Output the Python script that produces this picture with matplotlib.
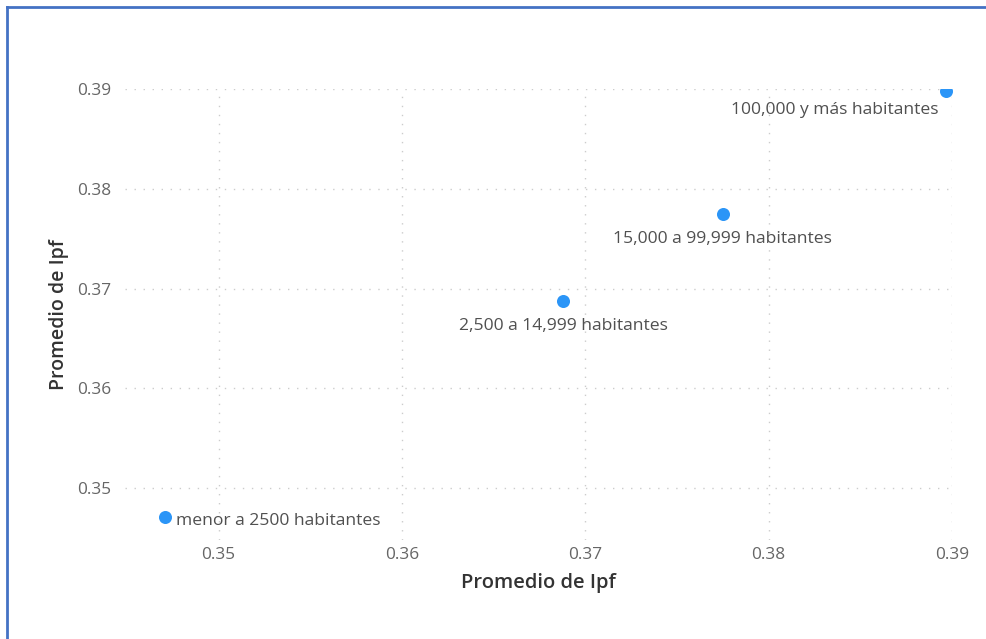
import matplotlib.pyplot as plt
from matplotlib.lines import Line2D

# data
categories = ['menor a 2500 habitantes', '2,500 a 14,999 habitantes',
              '15,000 a 99,999 habitantes', '100,000 y más habitantes']
ipf_x = [0.3471, 0.3688, 0.3775, 0.3897]
ipf_y = [0.3471, 0.3688, 0.3775, 0.3898]
tick_vals = [0.35, 0.36, 0.37, 0.38, 0.39]
# label offsets in pixels (dx, dy) and alignment, as placed in the reference
label_pos = [(11, -4, 'left'), (0, -25, 'center'), (0, -25, 'center'), (-8, -19, 'right')]

plt.rcParams['font.family'] = ['Open Sans', 'DejaVu Sans']

W, H = 987, 639
fig = plt.figure(figsize=(W / 100, H / 100), dpi=100)
left, right, top, bottom = 125, 952, 89, 540
ax = fig.add_axes([left / W, 1 - bottom / H, (right - left) / W, (bottom - top) / H])

ax.scatter(ipf_x, ipf_y, s=88, color='#2b95f7', zorder=3, linewidths=0)
for name, x, y, (dx, dy, ha) in zip(categories, ipf_x, ipf_y, label_pos):
    ax.annotate(name, (x, y), xytext=(dx * 0.72, dy * 0.72), textcoords='offset points',
                ha=ha, va='center', fontsize=12.6, color='#505050')

ax.set_xlim(0.3449, 0.39)
ax.set_ylim(0.3448, 0.39)
ax.set_xticks(tick_vals)
ax.set_yticks(tick_vals)
ax.set_xticklabels([f'{v:.2f}' for v in tick_vals])
ax.set_yticklabels([f'{v:.2f}' for v in tick_vals])
ax.tick_params(length=0, labelsize=12.4, labelcolor='#666666')
ax.tick_params(axis='x', pad=5)
ax.tick_params(axis='y', pad=10)
ax.grid(True, linestyle=(0, (1, 5.5)), color='#cccccc', linewidth=1)
ax.set_axisbelow(True)
for sp in ax.spines.values():
    sp.set_visible(False)

ax.set_xlabel('Promedio de Ipf', fontsize=14.5, fontweight='semibold', color='#333333', labelpad=7)
ax.set_ylabel('Promedio de Ipf', fontsize=14, fontweight='semibold', color='#333333', labelpad=6)

# blue frame on the left and top edge
blue = '#4472c4'
fig.add_artist(Line2D([7.5 / W, 7.5 / W], [0, 1 - 6.5 / H], transform=fig.transFigure, color=blue, lw=2))
fig.add_artist(Line2D([7.5 / W, 1], [1 - 6.5 / H, 1 - 6.5 / H], transform=fig.transFigure, color=blue, lw=2))

fig.savefig('out.png', dpi=100)
